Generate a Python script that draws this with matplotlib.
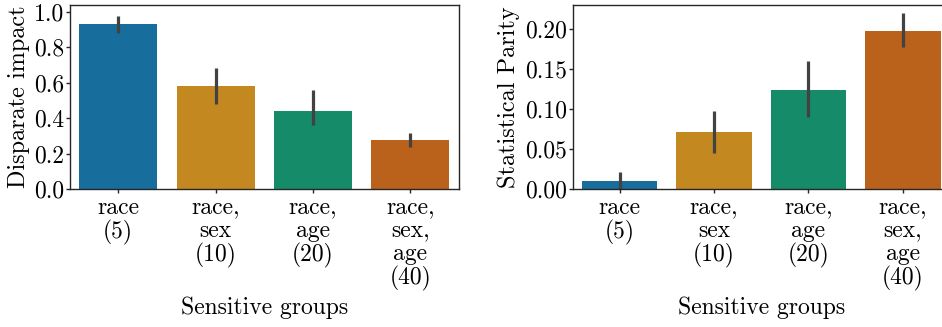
import matplotlib
matplotlib.use("Agg")
import matplotlib.pyplot as plt
import seaborn as sns
import numpy as np

# group labels on the x axis
groups = ["race\n(5)", "race,\nsex\n(10)", "race,\nage\n(20)", "race,\nsex,\nage\n(40)"]

# disparate impact: mean and CI bounds
di_mean = [0.932, 0.582, 0.441, 0.277]
di_lo = [0.883, 0.482, 0.362, 0.237]
di_hi = [0.980, 0.684, 0.558, 0.315]

# statistical parity: mean and CI bounds
sp_mean = [0.0100, 0.0711, 0.1235, 0.1971]
sp_lo = [0.0005, 0.0449, 0.0902, 0.1775]
sp_hi = [0.0208, 0.0973, 0.1593, 0.2192]

plt.rcParams['font.family'] = 'cmr10'
plt.rcParams['mathtext.fontset'] = 'cm'
plt.rcParams['axes.formatter.use_mathtext'] = True

FS = 17
colors = [sns.desaturate(c, 0.75) for c in sns.color_palette("colorblind", 4)]

fig = plt.figure(figsize=(9.42, 3.27), dpi=100)
W, H = 942, 327
ax1 = fig.add_axes([69.5 / W, 138 / H, (459 - 69.5) / W, 183.7 / H])
ax2 = fig.add_axes([572.5 / W, 138 / H, (950 - 572.5) / W, 183.7 / H])


def draw(ax, mean, lo, hi, ylabel, ylim, yticks, fmt, lpad):
    x = np.arange(len(mean))
    mean = np.array(mean)
    err = np.array([mean - np.array(lo), np.array(hi) - mean])
    ax.bar(x, mean, width=0.8, color=colors)
    ax.errorbar(x, mean, yerr=err, fmt='none', ecolor='#424242', elinewidth=2.3, capsize=0)
    ax.set_xlim(-0.5, len(mean) - 0.5)
    ax.set_ylim(*ylim)
    ax.set_yticks(yticks)
    ax.set_yticklabels([fmt.format(v) for v in yticks], fontsize=FS)
    ax.set_xticks(x)
    ax.set_xticklabels(groups, fontsize=FS, linespacing=1.05)
    ax.set_xlabel("Sensitive groups", fontsize=FS, labelpad=4)
    ax.set_ylabel(ylabel, fontsize=17.5, labelpad=lpad)
    for s in ax.spines.values():
        s.set_color('#262626')
        s.set_linewidth(1.0)
    ax.tick_params(length=3.0, width=1.0, color='#262626')
    ax.tick_params(axis='y', pad=1)
    ax.tick_params(axis='x', pad=2.5)


draw(ax1, di_mean, di_lo, di_hi, "Disparate impact", (0, 1.038),
     [0.0, 0.2, 0.4, 0.6, 0.8, 1.0], "{:.1f}", 3)
draw(ax2, sp_mean, sp_lo, sp_hi, "Statistical Parity", (0, 0.2291),
     [0.0, 0.05, 0.10, 0.15, 0.20], "{:.2f}", 3.5)

fig.savefig("out.png", dpi=100)
